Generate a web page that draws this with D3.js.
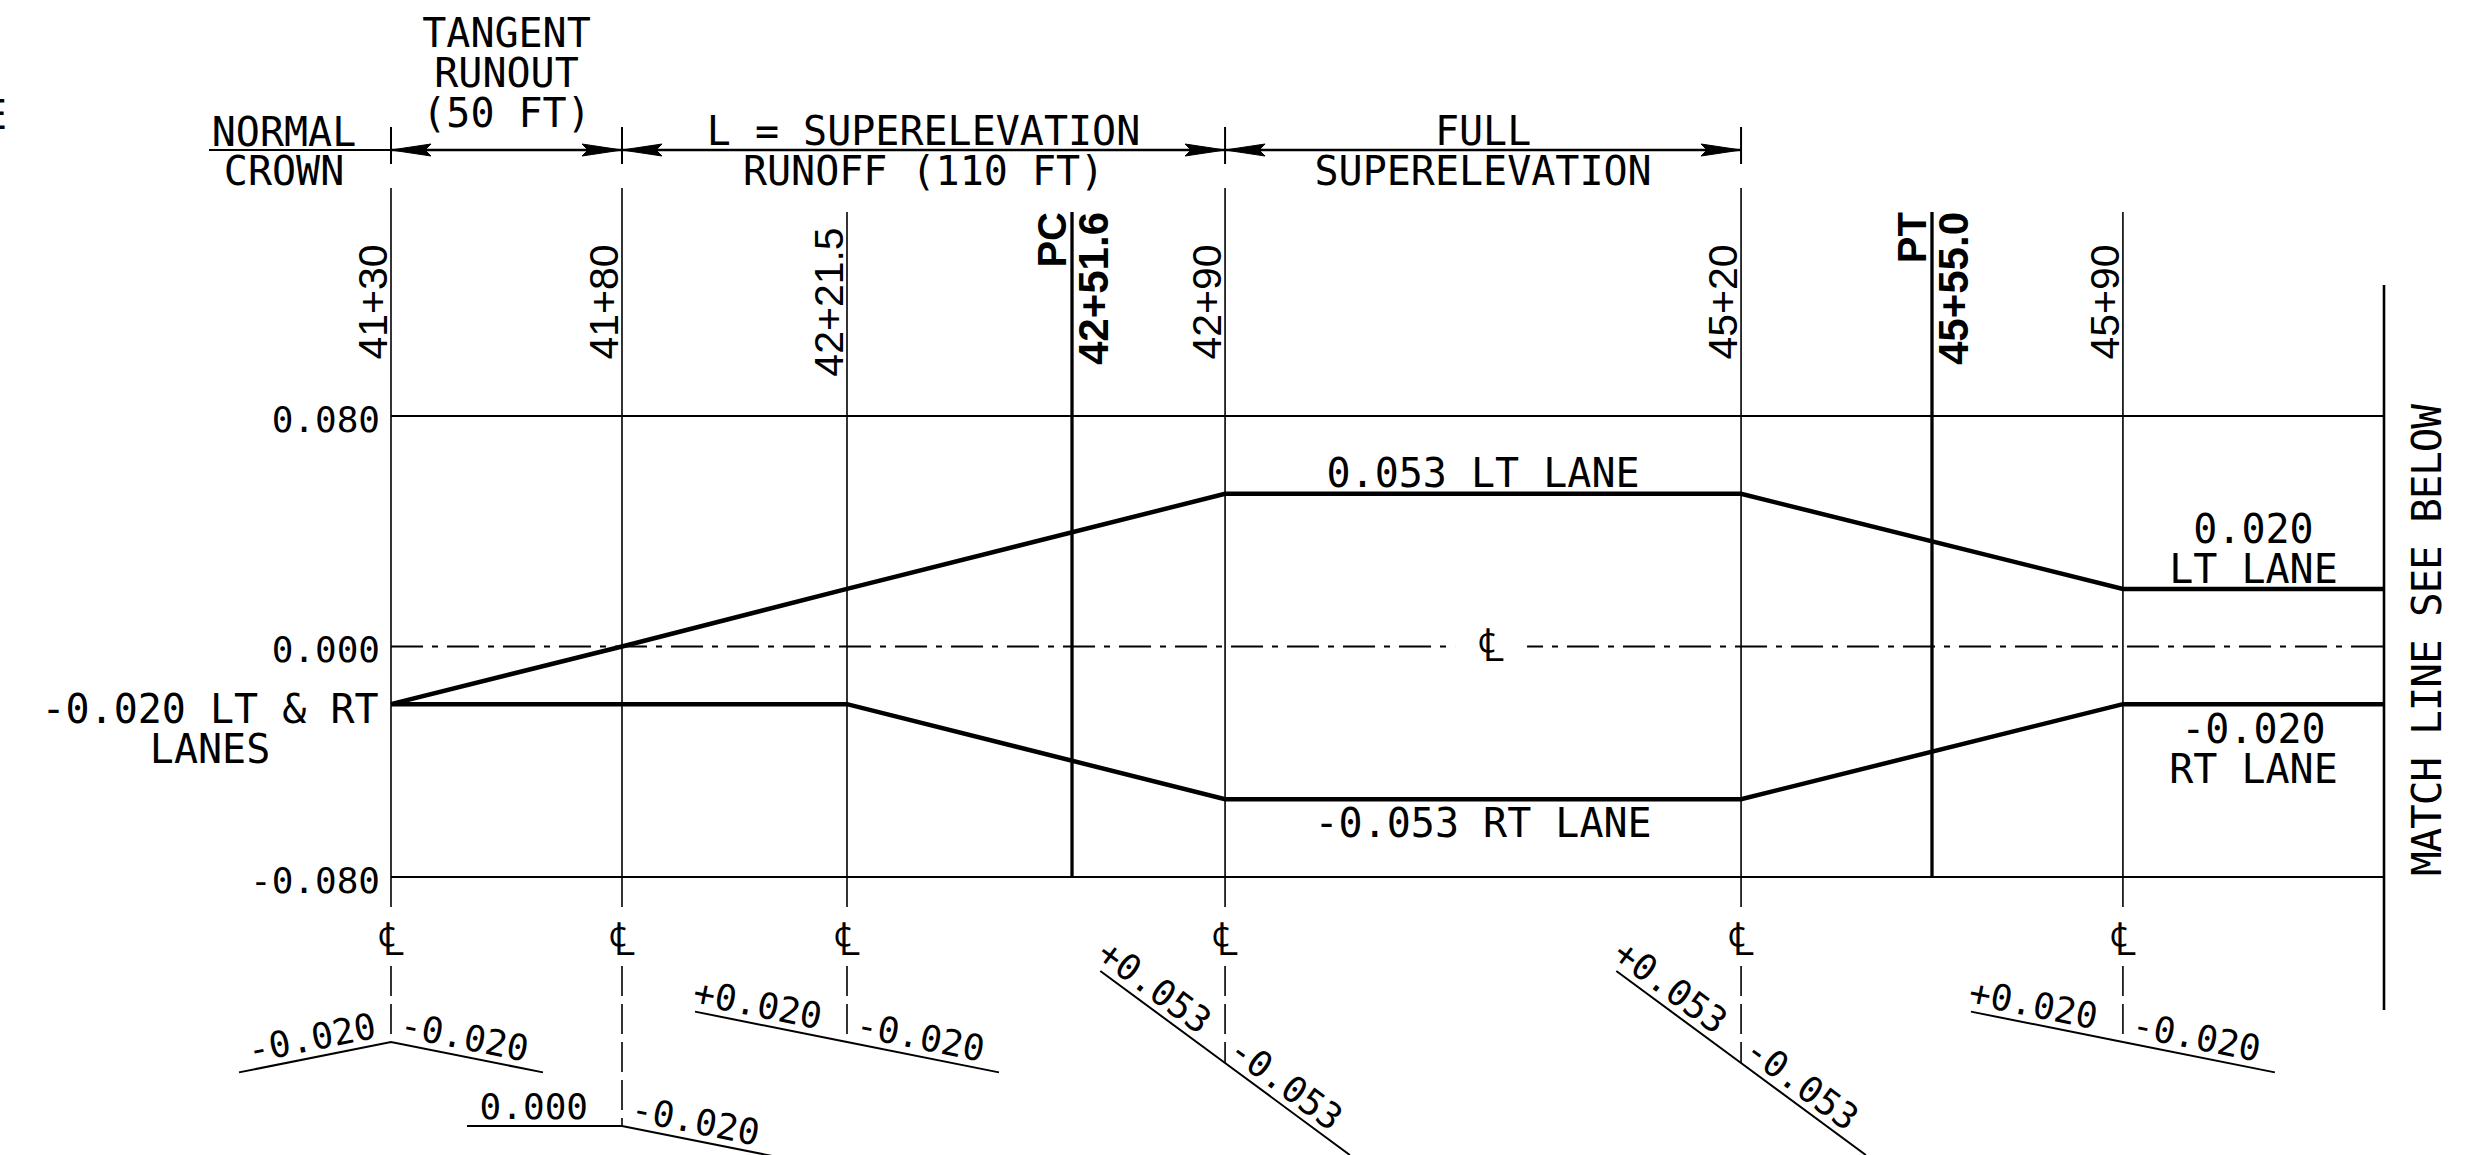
<!DOCTYPE html>
<html>
<head>
<meta charset="utf-8">
<script src="https://cdn.jsdelivr.net/npm/d3@7"></script>
<style>
html,body{margin:0;padding:0;background:#fff;}
svg{display:block;}
</style>
</head>
<body>
<svg id="chart" width="2488" height="1155"></svg>
<script>
// ================= DATA =================
// Stations drawn as full-height reference lines
const gridStations = ["41+30", "41+80", "42+21.5", "42+90", "45+20", "45+90"];
const gridFt = [4130, 4180, 4221.5, 4290, 4520, 4590];
// Curve points (PC / PT)
const pointNames = ["PC", "PT"];
const pointStations = ["42+51.6", "45+55.0"];
const pointFt = [4251.6, 4555];
// match line station (end of this sheet, estimated)
const matchLineFt = 4640;

// Cross slope of each lane (ft/ft) at break stations
const ltLaneFt = [4130, 4180, 4221.5, 4290, 4520, 4590, 4640];
const ltLaneSlope = [-0.020, 0.000, 0.020, 0.053, 0.053, 0.020, 0.020];
const rtLaneFt = [4130, 4221.5, 4290, 4520, 4590, 4640];
const rtLaneSlope = [-0.020, -0.020, -0.053, -0.053, -0.020, -0.020];

// y axis
const yTicks = [0.080, 0.000, -0.080];
const yTickLabels = ["0.080", "0.000", "-0.080"];

// Transition phases (dimension arrows above)
const phaseFrom = [4130, 4180, 4290];
const phaseTo = [4180, 4290, 4520];
const phaseTexts = [["TANGENT", "RUNOUT", "(50 FT)"], ["L = SUPERELEVATION", "RUNOFF (110 FT)"], ["FULL", "SUPERELEVATION"]];
const normalCrownText = ["NORMAL", "CROWN"];

// Typical section sketches below the diagram
const sectionFt = [4130, 4180, 4221.5, 4290, 4520, 4590];
const sectionLeft = [-0.020, 0.000, 0.020, 0.053, 0.053, 0.020];
const sectionRight = [-0.020, -0.020, -0.020, -0.053, -0.053, -0.020];
const sectionLeftLabels = ["-0.020", "0.000", "+0.020", "+0.053", "+0.053", "+0.020"];
const sectionRightLabels = ["-0.020", "-0.020", "-0.020", "-0.053", "-0.053", "-0.020"];

// Lane annotation texts
const startLabel = ["-0.020 LT & RT", "LANES"];
const fullLtLabel = "0.053 LT LANE";
const fullRtLabel = "-0.053 RT LANE";
const endLtLabel = ["0.020", "LT LANE"];
const endRtLabel = ["-0.020", "RT LANE"];
const matchText = "MATCH LINE SEE BELOW";
const CL = "\u2104";

// ================= LAYOUT =================
const W = 2488, H = 1155;
const L = 391, R = 2384, T = 416, B = 877;
const MONO = "'DejaVu Sans Mono', monospace";
const SANS = "'Liberation Sans', Arial, sans-serif";
const SYM = "'DejaVu Sans', sans-serif";

const svg = d3.select("#chart");
svg.append("rect").attr("width", W).attr("height", H).attr("fill", "#fff");

// schematic (not-to-scale) horizontal scale: piecewise linear through stations
const xDomain = [4130, 4180, 4221.5, 4251.6, 4290, 4520, 4555, 4590, matchLineFt];
const xFrac = [0, 0.1159, 0.2288, 0.3417, 0.4185, 0.6774, 0.7732, 0.8690, 1];
const x = d3.scaleLinear().domain(xDomain).range(xFrac.map(f => L + f * (R - L)));
const y = d3.scaleLinear().domain([-0.08, 0.08]).range([B, T]);
// exaggerated display angle (degrees) for the section sketches
const ang = d3.scaleLinear().domain([-0.053, -0.020, 0, 0.020, 0.053]).range([-36.4, -11.3, 0, 11.3, 36.4]);

function text(g, s, tx, ty, o = {}) {
  const t = g.append("text")
    .attr("transform", `translate(${tx},${ty})` + (o.rot ? ` rotate(${o.rot})` : ""))
    .attr("x", o.x || 0).attr("y", o.y || 0)
    .attr("font-family", o.font || MONO)
    .attr("font-size", o.size || 40)
    .attr("font-weight", o.weight || "normal")
    .attr("text-anchor", o.anchor || "middle")
    .attr("fill", "#000");
  if (Array.isArray(s)) {
    s.forEach((line, k) => {
      t.append("tspan").attr("x", o.x || 0).attr("dy", k === 0 ? 0 : (o.lh || 40)).text(line);
    });
  } else {
    t.text(s);
  }
  if (o.len) t.attr("textLength", o.len).attr("lengthAdjust", "spacing");
  return t;
}

const g = svg.append("g");

// ---- horizontal frame lines ±0.080 ----
g.selectAll("line.grid").data([0.080, -0.080]).enter().append("line")
  .attr("x1", L).attr("x2", R).attr("y1", d => y(d)).attr("y2", d => y(d))
  .attr("stroke", "#000").attr("stroke-width", 2);

// ---- centerline dash-dot ----
g.append("line").attr("x1", L).attr("x2", R).attr("y1", y(0)).attr("y2", y(0))
  .attr("stroke", "#000").attr("stroke-width", 2).attr("stroke-dasharray", "32,9,6,9");

// ---- y axis labels ----
const yAxis = d3.axisLeft(y).tickValues(yTicks).tickSize(0).tickPadding(11)
  .tickFormat((d, i) => yTickLabels[i]);
const ga = svg.append("g").attr("transform", `translate(${L},0)`).call(yAxis);
ga.select(".domain").remove();
ga.selectAll("text").attr("font-family", MONO).attr("font-size", 36).attr("fill", "#000").attr("dy", "0.42em");

// ---- station lines ----
const dimFt = new Set([...phaseFrom, ...phaseTo]);
gridFt.forEach((ft, i) => {
  const top = dimFt.has(ft) ? 188 : 212;
  g.append("line").attr("x1", x(ft)).attr("x2", x(ft)).attr("y1", top).attr("y2", B)
    .attr("stroke", "#000").attr("stroke-width", 1.6);
  text(g, gridStations[i], x(ft) - 4, 302, { rot: -90, font: SANS, size: 41 });
});

// ---- PC / PT ----
pointFt.forEach((ft, i) => {
  g.append("line").attr("x1", x(ft)).attr("x2", x(ft)).attr("y1", 212).attr("y2", B)
    .attr("stroke", "#000").attr("stroke-width", 3.3);
  text(g, pointNames[i], x(ft) - 6, 212, { rot: -90, font: SANS, size: 40, weight: "bold", anchor: "end" });
  text(g, pointStations[i], x(ft) + 36, 212, { rot: -90, font: SANS, size: 42, weight: "bold", anchor: "end" });
});

// ---- lane slope lines ----
const line = d3.line().x(d => x(d[0])).y(d => y(d[1]));
g.append("path").datum(ltLaneFt.map((f, i) => [f, ltLaneSlope[i]])).attr("d", line)
  .attr("fill", "none").attr("stroke", "#000").attr("stroke-width", 4.5);
g.append("path").datum(rtLaneFt.map((f, i) => [f, rtLaneSlope[i]])).attr("d", line)
  .attr("fill", "none").attr("stroke", "#000").attr("stroke-width", 4.5);

// ---- centerline symbol on the profile ----
const clx = (x(4290) + x(4520)) / 2 + 8;
g.append("rect").attr("x", clx - 36).attr("y", y(0) - 24).attr("width", 72).attr("height", 48).attr("fill", "#fff");
text(g, CL, clx, y(0) + 14, { font: SYM, size: 46, weight: 200 });

// ---- lane annotations ----
text(g, startLabel, L - 181, y(-0.020) + 19);
const midFull = (x(4290) + x(4520)) / 2;
text(g, fullLtLabel, midFull, y(0.053) - 7);
text(g, fullRtLabel, midFull, y(-0.053) + 38);
const midEnd = (x(4590) + x(matchLineFt)) / 2;
text(g, endLtLabel, midEnd, y(0.020) - 46);
text(g, endRtLabel, midEnd, y(-0.020) + 39);

// ---- match line ----
g.append("line").attr("x1", x(matchLineFt)).attr("x2", x(matchLineFt)).attr("y1", 285).attr("y2", 1010)
  .attr("stroke", "#000").attr("stroke-width", 2.6);
text(g, matchText, x(matchLineFt) + 57, 640, { rot: -90, size: 41, len: 472 });

// ---- dimension arrows (top) ----
const dimY = 150;
function arrowHead(xTip, dir) {
  const len = 40, hw = 6;
  g.append("path")
    .attr("d", `M${xTip},${dimY} L${xTip + dir * len},${dimY - hw} L${xTip + dir * (len - 6)},${dimY} L${xTip + dir * len},${dimY + hw} Z`)
    .attr("fill", "#000").attr("stroke", "#000").attr("stroke-width", 1);
}
phaseFrom.forEach((f, i) => {
  const a = x(f), b = x(phaseTo[i]);
  g.append("line").attr("x1", a).attr("x2", b).attr("y1", dimY).attr("y2", dimY)
    .attr("stroke", "#000").attr("stroke-width", 2.5);
  arrowHead(a, 1);
  arrowHead(b, -1);
  const lines = phaseTexts[i];
  const cx = (a + b) / 2;
  text(g, lines, cx, lines.length === 3 ? 47 : 145);
});
[...dimFt].forEach(f => {
  g.append("line").attr("x1", x(f)).attr("x2", x(f)).attr("y1", 127).attr("y2", 164)
    .attr("stroke", "#000").attr("stroke-width", 2);
});
// normal crown
g.append("line").attr("x1", x(4130) - 182).attr("x2", x(4130)).attr("y1", dimY).attr("y2", dimY)
  .attr("stroke", "#000").attr("stroke-width", 2);
text(g, normalCrownText, x(4130) - 107, 146, { lh: 39 });

// partial text cut off at the left edge
text(g, "E", -17, 129, { anchor: "start" });

// ---- section sketches ----
const sectionRow = [0, 1, 0, 0, 0, 0];
sectionFt.forEach((ft, i) => {
  const vx = x(ft);
  const steep = Math.abs(sectionLeft[i]) > 0.03 || Math.abs(sectionRight[i]) > 0.03;
  const vy = 1042 + sectionRow[i] * 84 + (steep ? 21 : 0);
  // dashed centerline extension with symbol
  g.append("line").attr("x1", vx).attr("x2", vx).attr("y1", B).attr("y2", 915)
    .attr("stroke", "#000").attr("stroke-width", 1.6).attr("stroke-dasharray", "30,8");
  g.append("line").attr("x1", vx).attr("x2", vx).attr("y1", 966).attr("y2", vy)
    .attr("stroke", "#000").attr("stroke-width", 1.6).attr("stroke-dasharray", "30,8");
  text(g, CL, vx, 955, { font: SYM, size: 46, weight: 200 });
  const A = 155;
  const tl = ang(sectionLeft[i]) * Math.PI / 180;
  const tr = ang(sectionRight[i]) * Math.PI / 180;
  const lx = vx - A * Math.cos(tl), ly = vy - A * Math.sin(tl);
  const rx = vx + A * Math.cos(tr), ry = vy - A * Math.sin(tr);
  g.append("path").attr("d", `M${lx},${ly} L${vx},${vy} L${rx},${ry}`)
    .attr("fill", "none").attr("stroke", "#000").attr("stroke-width", 2);
  const sl = sectionLeft[i];
  const gl = sl === 0 ? -34 : sl < 0 ? -12 : (steep ? -37 : -30);
  const gr = steep ? -4 : 6;
  text(g, sectionLeftLabels[i], vx, vy, { rot: ang(sl), x: gl, y: -7, size: 36, anchor: "end" });
  text(g, sectionRightLabels[i], vx, vy, { rot: -ang(sectionRight[i]), x: gr, y: -7, size: 36, anchor: "start" });
});
</script>
</body>
</html>
